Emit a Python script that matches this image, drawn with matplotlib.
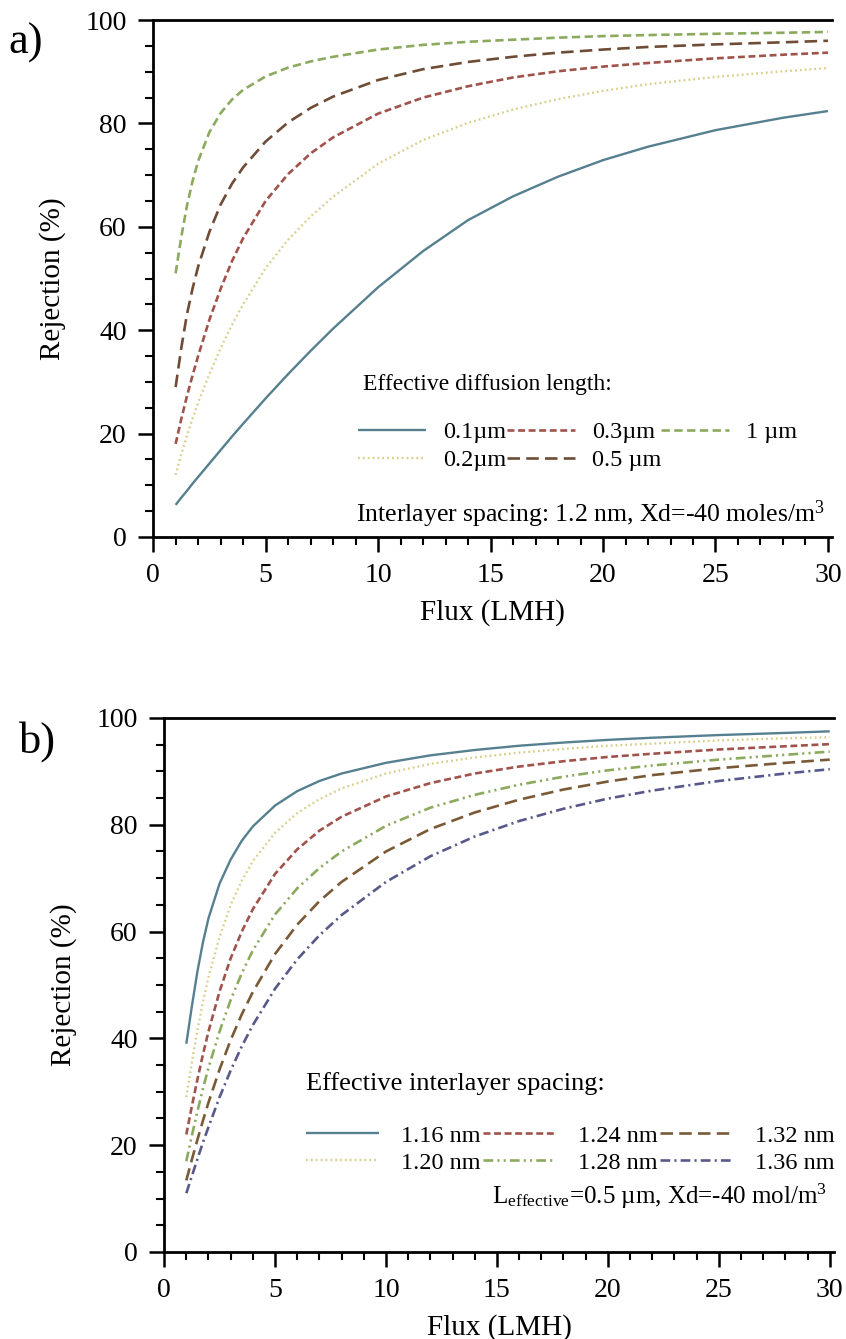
import matplotlib
matplotlib.use('Agg')
import matplotlib.pyplot as plt
from matplotlib.ticker import MultipleLocator

plt.rcParams['font.family'] = ['Liberation Serif', 'DejaVu Serif']
plt.rcParams['mathtext.fontset'] = 'custom'
plt.rcParams['mathtext.rm'] = 'Liberation Serif'
plt.rcParams['mathtext.it'] = 'Liberation Serif:italic'
plt.rcParams['lines.scale_dashes'] = False

flux = [1, 1.25, 1.5, 1.75, 2, 2.5, 3, 3.5, 4, 5, 6, 7, 8, 10, 12, 14, 16, 18, 20, 22, 25, 28, 30]

# a) rejection (%) vs effective diffusion length
len_labels = ['0.1\u00b5m', '0.2\u00b5m', '0.3\u00b5m', '0.5 \u00b5m', '1 \u00b5m']
rej_01 = [6.2, 7.6, 8.9, 10.3, 11.6, 14.2, 16.8, 19.4, 21.9, 26.8, 31.5, 36, 40.3, 48.3, 55.3, 61.3, 65.9, 69.7, 72.9, 75.5, 78.7, 81.1, 82.4]
rej_02 = [12, 16, 19.5, 22.9, 26, 31.5, 36.5, 41, 45, 52, 57.5, 62, 65.8, 72.2, 76.8, 80.1, 82.7, 84.7, 86.3, 87.6, 89, 90.1, 90.7]
rej_03 = [18, 22.8, 27.2, 31.2, 35, 42, 48, 53.3, 57.8, 65, 70.2, 74.2, 77.3, 81.9, 85, 87.2, 88.9, 90.1, 91, 91.7, 92.6, 93.3, 93.7]
rej_05 = [29, 36.5, 43, 48, 52.3, 59, 64.3, 68.3, 71.5, 76.5, 80.2, 83, 85.2, 88.4, 90.5, 91.9, 92.9, 93.7, 94.3, 94.8, 95.3, 95.7, 96]
rej_1 = [51, 58, 64, 68.8, 72.7, 78.3, 82, 84.6, 86.5, 89.1, 90.8, 92, 92.9, 94.3, 95.2, 95.8, 96.2, 96.6, 96.9, 97.1, 97.35, 97.55, 97.7]

# b) rejection (%) vs effective interlayer spacing
sp_labels = ['1.16 nm', '1.20 nm', '1.24 nm', '1.28 nm', '1.32 nm', '1.36 nm']
rej_116 = [39, 46, 52.5, 58, 62.5, 69, 73.5, 77, 79.7, 83.6, 86.3, 88.2, 89.6, 91.6, 93, 94, 94.8, 95.4, 95.9, 96.3, 96.8, 97.2, 97.5]
rej_120 = [29, 35.5, 41.5, 46.8, 51.5, 59, 65, 69.5, 73.2, 78.5, 82.2, 84.8, 86.8, 89.6, 91.4, 92.6, 93.5, 94.2, 94.8, 95.2, 95.8, 96.2, 96.4]
rej_124 = [22, 27.3, 32.3, 37, 41.3, 48.8, 55, 60, 64.2, 70.8, 75.4, 78.9, 81.5, 85.3, 87.8, 89.6, 90.9, 91.9, 92.7, 93.3, 94.1, 94.7, 95.1]
rej_128 = [17, 21.8, 26.3, 30.6, 34.5, 41.3, 47.2, 52.2, 56.5, 63.2, 68.1, 71.9, 75, 79.8, 83.2, 85.6, 87.5, 89, 90.2, 91.1, 92.2, 93.1, 93.7]
rej_132 = [13.4, 17.3, 21, 24.6, 28, 34.2, 39.7, 44.5, 48.7, 55.8, 61.3, 65.7, 69.3, 75, 79.2, 82.3, 84.7, 86.6, 88.1, 89.3, 90.6, 91.6, 92.2]
rej_136 = [11, 14.2, 17.4, 20.5, 23.4, 29, 34, 38.5, 42.5, 49.3, 54.8, 59.3, 63.1, 69.3, 74.1, 77.8, 80.7, 83, 84.9, 86.4, 88.2, 89.6, 90.4]

blue = '#56808f'
yellow = '#d8ce8c'
red = '#a0534b'
brown = '#6e4c36'
green = '#8caa5e'
brown2 = '#7a5a36'
purple = '#58598a'

solid = (0, ())
dotted = (0, (1.3, 2.2))
short_dash = (0, (5, 2.6))
long_dash = (0, (9, 4.5))
mid_dash = (0, (6, 3.2))
dash_dot = (0, (7, 3, 1.5, 3))
dash_dot_dot = (0, (7, 3, 1.5, 3, 1.5, 3))


def style_axes(ax):
    ax.set_xlim(0, 30.2)
    ax.set_ylim(0, 100)
    ax.xaxis.set_major_locator(MultipleLocator(5))
    ax.xaxis.set_minor_locator(MultipleLocator(1))
    ax.yaxis.set_major_locator(MultipleLocator(20))
    ax.yaxis.set_minor_locator(MultipleLocator(5))
    ax.spines['right'].set_visible(False)
    for s in ['left', 'bottom', 'top']:
        ax.spines[s].set_linewidth(2)
    ax.tick_params(which='major', direction='out', length=11, width=1.8, labelsize=20, pad=8)
    ax.tick_params(which='minor', direction='out', length=5.5, width=1.5)
    ax.tick_params(top=False, right=False, which='both')
    ax.set_xlabel('Flux (LMH)', fontsize=21, labelpad=8)
    ax.set_ylabel('Rejection (%)', fontsize=21, labelpad=14)


fig = plt.figure(figsize=(8.46, 13.39), dpi=100)

ax1 = fig.add_axes([0.181, 0.599, 0.803, 0.386])
ax1.plot(flux, rej_01, color=blue, lw=1.7, linestyle=solid, label=len_labels[0])
ax1.plot(flux, rej_02, color=yellow, lw=1.7, linestyle=dotted, label=len_labels[1])
ax1.plot(flux, rej_03, color=red, lw=1.9, linestyle=short_dash, label=len_labels[2])
ax1.plot(flux, rej_05, color=brown, lw=1.9, linestyle=long_dash, label=len_labels[3])
ax1.plot(flux, rej_1, color=green, lw=1.9, linestyle=mid_dash, label=len_labels[4])
style_axes(ax1)
ax1.text(0.309, 0.294, 'Effective diffusion length:', transform=ax1.transAxes,
         fontsize=17, va='center', ha='left')
ax1.legend(ncol=3, loc='upper left', bbox_to_anchor=(0.302, 0.224), frameon=False,
           fontsize=17.5, handlelength=2.8, handletextpad=0.7, columnspacing=0.0,
           labelspacing=0.25, borderpad=0, borderaxespad=0)
ax1.text(0.298, 0.043, 'Interlayer spacing: 1.2 nm, Xd=-40 moles/m$^3$',
         transform=ax1.transAxes, fontsize=18.5, va='center', ha='left')
fig.text(0.010, 0.960, 'a)', fontsize=32)

ax2 = fig.add_axes([0.194, 0.065, 0.792, 0.3988])
ax2.plot(flux, rej_116, color=blue, lw=1.7, linestyle=solid, label=sp_labels[0])
ax2.plot(flux, rej_120, color=yellow, lw=1.7, linestyle=dotted, label=sp_labels[1])
ax2.plot(flux, rej_124, color=red, lw=1.9, linestyle=short_dash, label=sp_labels[2])
ax2.plot(flux, rej_128, color=green, lw=1.9, linestyle=dash_dot_dot, label=sp_labels[3])
ax2.plot(flux, rej_132, color=brown2, lw=1.9, linestyle=long_dash, label=sp_labels[4])
ax2.plot(flux, rej_136, color=purple, lw=1.9, linestyle=dash_dot, label=sp_labels[5])
style_axes(ax2)
ax2.text(0.212, 0.316, 'Effective interlayer spacing:', transform=ax2.transAxes,
         fontsize=19, va='center', ha='left')
ax2.legend(ncol=3, loc='upper left', bbox_to_anchor=(0.212, 0.238), frameon=False,
           fontsize=17.5, handlelength=3.0, handletextpad=0.9, columnspacing=0.1,
           labelspacing=0.2, borderpad=0, borderaxespad=0)
ax2.text(0.99, 0.105, 'L$_{\\mathrm{effective}}$=0.5 \u00b5m, Xd=-40 mol/m$^3$',
         transform=ax2.transAxes, fontsize=18, va='center', ha='right')
fig.text(0.022, 0.438, 'b)', fontsize=32)

fig.savefig('out.png', dpi=100)
